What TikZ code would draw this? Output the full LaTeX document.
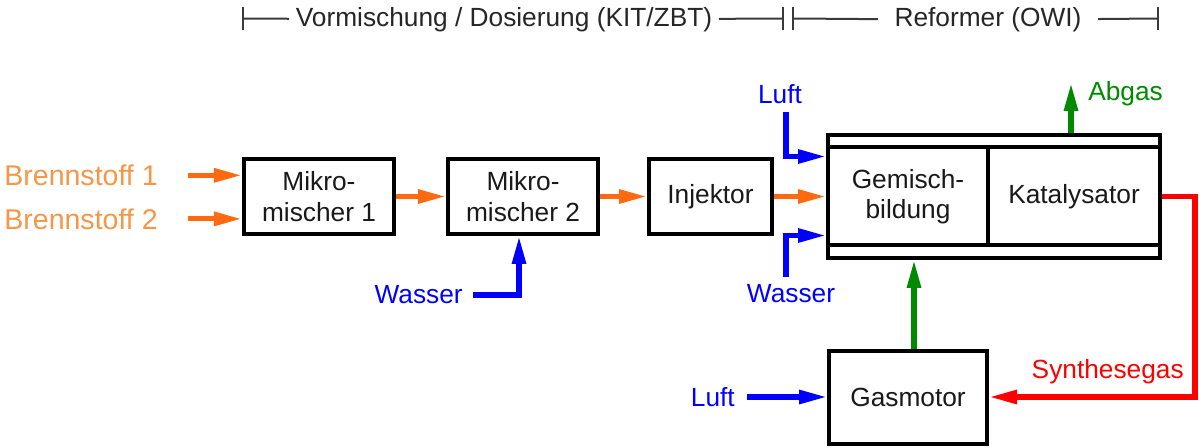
\documentclass[tikz,border=0pt]{standalone}
\usepackage{fontspec}
\setmainfont{Liberation Sans}
\usepackage{tikz}
\usetikzlibrary{arrows.meta,positioning,calc,fit}
\definecolor{fuel}{HTML}{FF6A10}
\definecolor{fueltxt}{HTML}{F79646}
\definecolor{wat}{HTML}{0000FF}
\definecolor{exh}{HTML}{008A00}
\definecolor{syn}{HTML}{FF0000}
\definecolor{rulec}{HTML}{3A3A3A}
\tikzset{
  >={Triangle[length=7mm,width=3.3mm]},
  lab/.style={inner sep=0pt,font=\fontsize{18.7}{21.5}\selectfont,align=center},
  box/.style={lab,draw=black,line width=1mm,minimum height=18.75mm,fill=white,text=black!90},
  cell/.style={box,outer sep=0pt,minimum height=24.5mm},
  olab/.style={lab,text=fueltxt,font=\fontsize{20.3}{24}\selectfont},
  blab/.style={lab,text=wat},
  glab/.style={lab,text=exh},
  rlab/.style={lab,text=syn},
  hdr/.style={lab,text=black!85,inner ysep=1mm},
  arr/.style={->,line width=1.3mm},
  oarr/.style={arr,draw=fuel},
  barr/.style={arr,draw=wat},
  garr/.style={arr,draw=exh},
  rarr/.style={arr,draw=syn},
  span/.style={draw=rulec,line width=0.5mm},
}
\begin{document}
\begin{tikzpicture}[x=0.25mm,y=-0.25mm]
\useasboundingbox (0,0) rectangle (1199,448);
% header
\node[hdr,inner xsep=1.6mm] (vor) at (504,20) {Vormischung / Dosierung (KIT/ZBT)};
\node[hdr,inner xsep=4.1mm] (owi) at (988,20) {Reformer (OWI)};
\coordinate (t1) at (243,18.5);
\coordinate (t2) at (783,18.5);
\coordinate (t3) at (793,18.5);
\coordinate (t4) at (1158,18.5);
\draw[span] (t1) -- (vor); \draw[span] (vor) -- (t2);
\draw[span] (t3) -- (owi); \draw[span] (owi) -- (t4);
\foreach \t in {t1,t2,t3,t4}
  \draw[span] ([yshift=2.9mm]\t) -- ([yshift=-2.9mm]\t);
% main chain
\node[box,minimum width=37.5mm] (mm1) at (319,196.5) {Mikro-\\mischer 1};
\node[box,minimum width=37.5mm,right=12.5mm of mm1] (mm2) {Mikro-\\mischer 2};
\node[box,minimum width=30.75mm,right=11.75mm of mm2] (inj) {Injektor};
\node[cell,minimum width=40mm,right=13.5mm of inj] (gem) {Gemisch-\\bildung};
\node[cell,minimum width=43mm,anchor=west] (kat) at (gem.east) {Katalysator};
\node[draw=black,line width=1mm,fit=(gem)(kat),inner xsep=0pt,inner ysep=3.1mm] (ref) {};
\node[box,minimum width=39.5mm,minimum height=23.25mm,below=25.75mm of gem] (gas) {Gasmotor};
% fuels
\node[olab,anchor=east] (bs1) at ([xshift=-21mm,yshift=5.3mm]mm1.west) {Brennstoff 1};
\node[olab,anchor=east] (bs2) at ([xshift=-21mm,yshift=-5.6mm]mm1.west) {Brennstoff 2};
\draw[oarr,shorten <=7.5mm] (bs1.east) -- (bs1.east -| mm1.west);
\draw[oarr,shorten <=7.5mm] (bs2.east) -- (bs2.east -| mm1.west);
\draw[oarr] (mm1) -- (mm2);
\draw[oarr] (mm2) -- (inj);
\draw[oarr] (inj) -- ([xshift=-0.5mm]gem.west);
% water and air
\node[blab,anchor=east] (was1) at (463,295) {Wasser};
\draw[barr] ([xshift=2.5mm]was1.east) -| ([xshift=-1mm]mm2.south);
\node[blab] (luft1) at (780,94) {Luft};
\coordinate (lft) at (786,112);
\draw[barr] (lft) |- ([xshift=-0.5mm,yshift=-2.25mm]gem.north west);
\node[blab] (was2) at (791,294) {Wasser};
\coordinate (wst) at (786,277);
\draw[barr] (wst) |- ([xshift=-0.5mm,yshift=2.5mm]gem.south west);
\node[blab,left=23mm of gas] (luft2) {Luft};
\draw[barr,shorten <=3mm] (luft2.east) -- (gas.west);
% exhaust, motor, syngas
\coordinate (abg) at (1071,83);
\draw[garr] (abg |- ref.north) -- (abg);
\node[glab,anchor=west] (abgas) at (1088,94) {Abgas};
\draw[garr] ([xshift=1.5mm]gas.north) -- ([xshift=1.5mm]gas.north |- ref.south);
\coordinate (rc) at (1195,200);
\draw[rarr] ([xshift=0.5mm]kat.east) -- (kat.east -| rc) |- (gas.east);
\node[rlab,anchor=east] (syngas) at (1184,372) {Synthesegas};
\end{tikzpicture}
\end{document}
